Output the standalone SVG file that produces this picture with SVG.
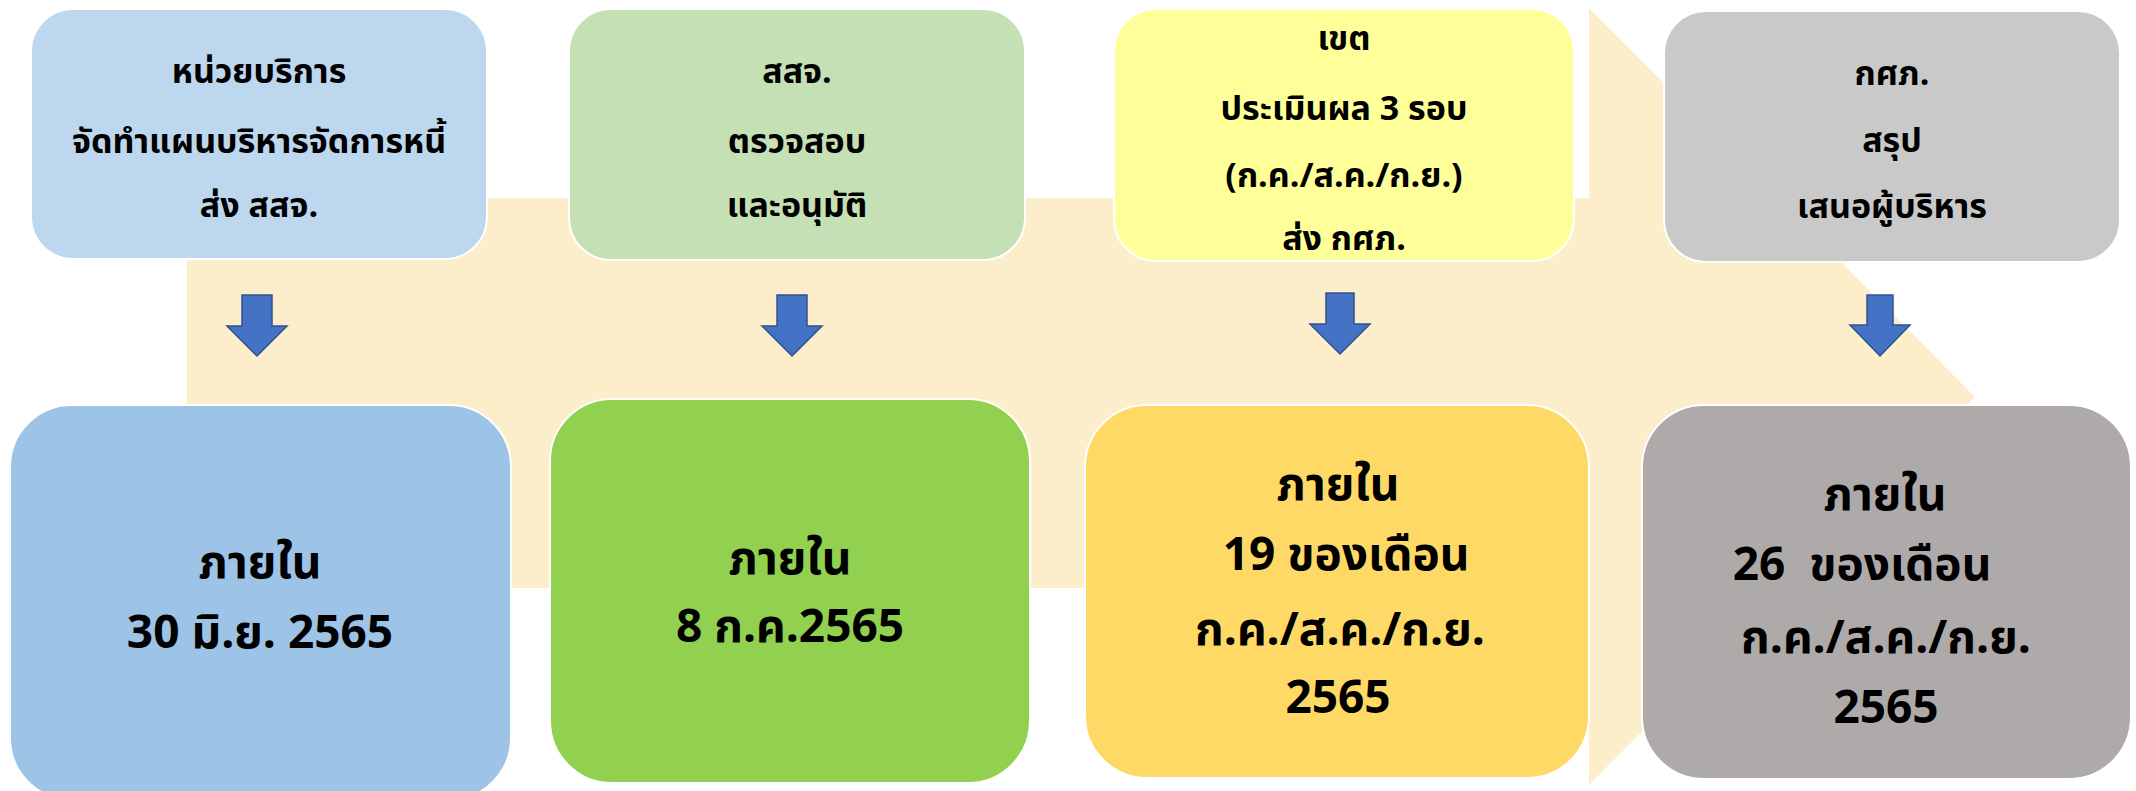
<svg xmlns="http://www.w3.org/2000/svg" width="2136" height="791" viewBox="0 0 2136 791">
<style>
  text { font-family: "Noto Sans Thai", "Noto Sans", "DejaVu Sans", sans-serif; font-weight: bold; fill: #000; text-anchor: middle; }
  .t { font-size: 34px; }
  .b { font-size: 46px; }
  .box { stroke: #ffffff; stroke-width: 2; }
  .down { fill: #4472C4; stroke: #2F528F; stroke-width: 1.5; }
</style>
<rect width="2136" height="791" fill="#ffffff"/>
<g id="background-arrow">
  <polygon points="187,198 1589,198 1589,8 1975,397 1589,785 1589,588 187,588" fill="#FCEECB"/>
</g>
<g id="node-unit">
  <rect class="box" x="31" y="9" width="456" height="250" rx="42" fill="#BDD7EE"/>
  <text class="t" x="259" y="83">หน่วยบริการ</text>
  <text class="t" x="259" y="153">จัดทำแผนบริหารจัดการหนี้</text>
  <text class="t" x="259" y="217">ส่ง สสจ.</text>
</g>
<g id="node-ssj">
  <rect class="box" x="569" y="9" width="456" height="251" rx="42" fill="#C5E0B4"/>
  <text class="t" x="797" y="83">สสจ.</text>
  <text class="t" x="797" y="153">ตรวจสอบ</text>
  <text class="t" x="797" y="217">และอนุมัติ</text>
</g>
<g id="node-khet">
  <rect class="box" x="1114" y="9" width="460" height="252" rx="42" fill="#FFFF99"/>
  <text class="t" x="1344" y="50">เขต</text>
  <text class="t" x="1344" y="120">ประเมินผล 3 รอบ</text>
  <text class="t" x="1344" y="187">(ก.ค./ส.ค./ก.ย.)</text>
  <text class="t" x="1344" y="250">ส่ง กศภ.</text>
</g>
<g id="node-ksp">
  <rect class="box" x="1664" y="11" width="456" height="251" rx="42" fill="#C9C9C9"/>
  <text class="t" x="1892" y="85">กศภ.</text>
  <text class="t" x="1892" y="152">สรุป</text>
  <text class="t" x="1892" y="218">เสนอผู้บริหาร</text>
</g>
<g id="connectors">
  <polygon class="down" points="242,295 272,295 272,326 287,326 257,356 227,326 242,326"/>
  <polygon class="down" points="777,295 807,295 807,326 822,326 792,356 762,326 777,326"/>
  <polygon class="down" points="1326,293 1354,293 1354,324 1370,324 1340,354 1310,324 1326,324"/>
  <polygon class="down" points="1867,295 1893,295 1893,325 1910,325 1880,356 1850,325 1867,325"/>
</g>
<g id="deadline-unit">
  <rect class="box" x="10" y="405" width="501" height="395" rx="62" fill="#9DC3E6"/>
  <text class="b" x="260" y="578">ภายใน</text>
  <text class="b" x="260" y="648">30 มิ.ย. 2565</text>
</g>
<g id="deadline-ssj">
  <rect class="box" x="550" y="399" width="480" height="384" rx="62" fill="#92D050"/>
  <text class="b" x="790" y="574">ภายใน</text>
  <text class="b" x="790" y="642">8 ก.ค.2565</text>
</g>
<g id="deadline-khet">
  <rect class="box" x="1085" y="405" width="504" height="373" rx="62" fill="#FFD966"/>
  <text class="b" x="1338" y="500">ภายใน</text>
  <text class="b" x="1346" y="570">19 ของเดือน</text>
  <text class="b" x="1340" y="645">ก.ค./ส.ค./ก.ย.</text>
  <text class="b" x="1338" y="713">2565</text>
</g>
<g id="deadline-ksp">
  <rect class="box" x="1642" y="405" width="489" height="374" rx="62" fill="#AEAAAA"/>
  <text class="b" x="1885" y="510">ภายใน</text>
  <text class="b" x="1862" y="580" xml:space="preserve">26  ของเดือน</text>
  <text class="b" x="1886" y="653">ก.ค./ส.ค./ก.ย.</text>
  <text class="b" x="1886" y="723">2565</text>
</g>
</svg>
